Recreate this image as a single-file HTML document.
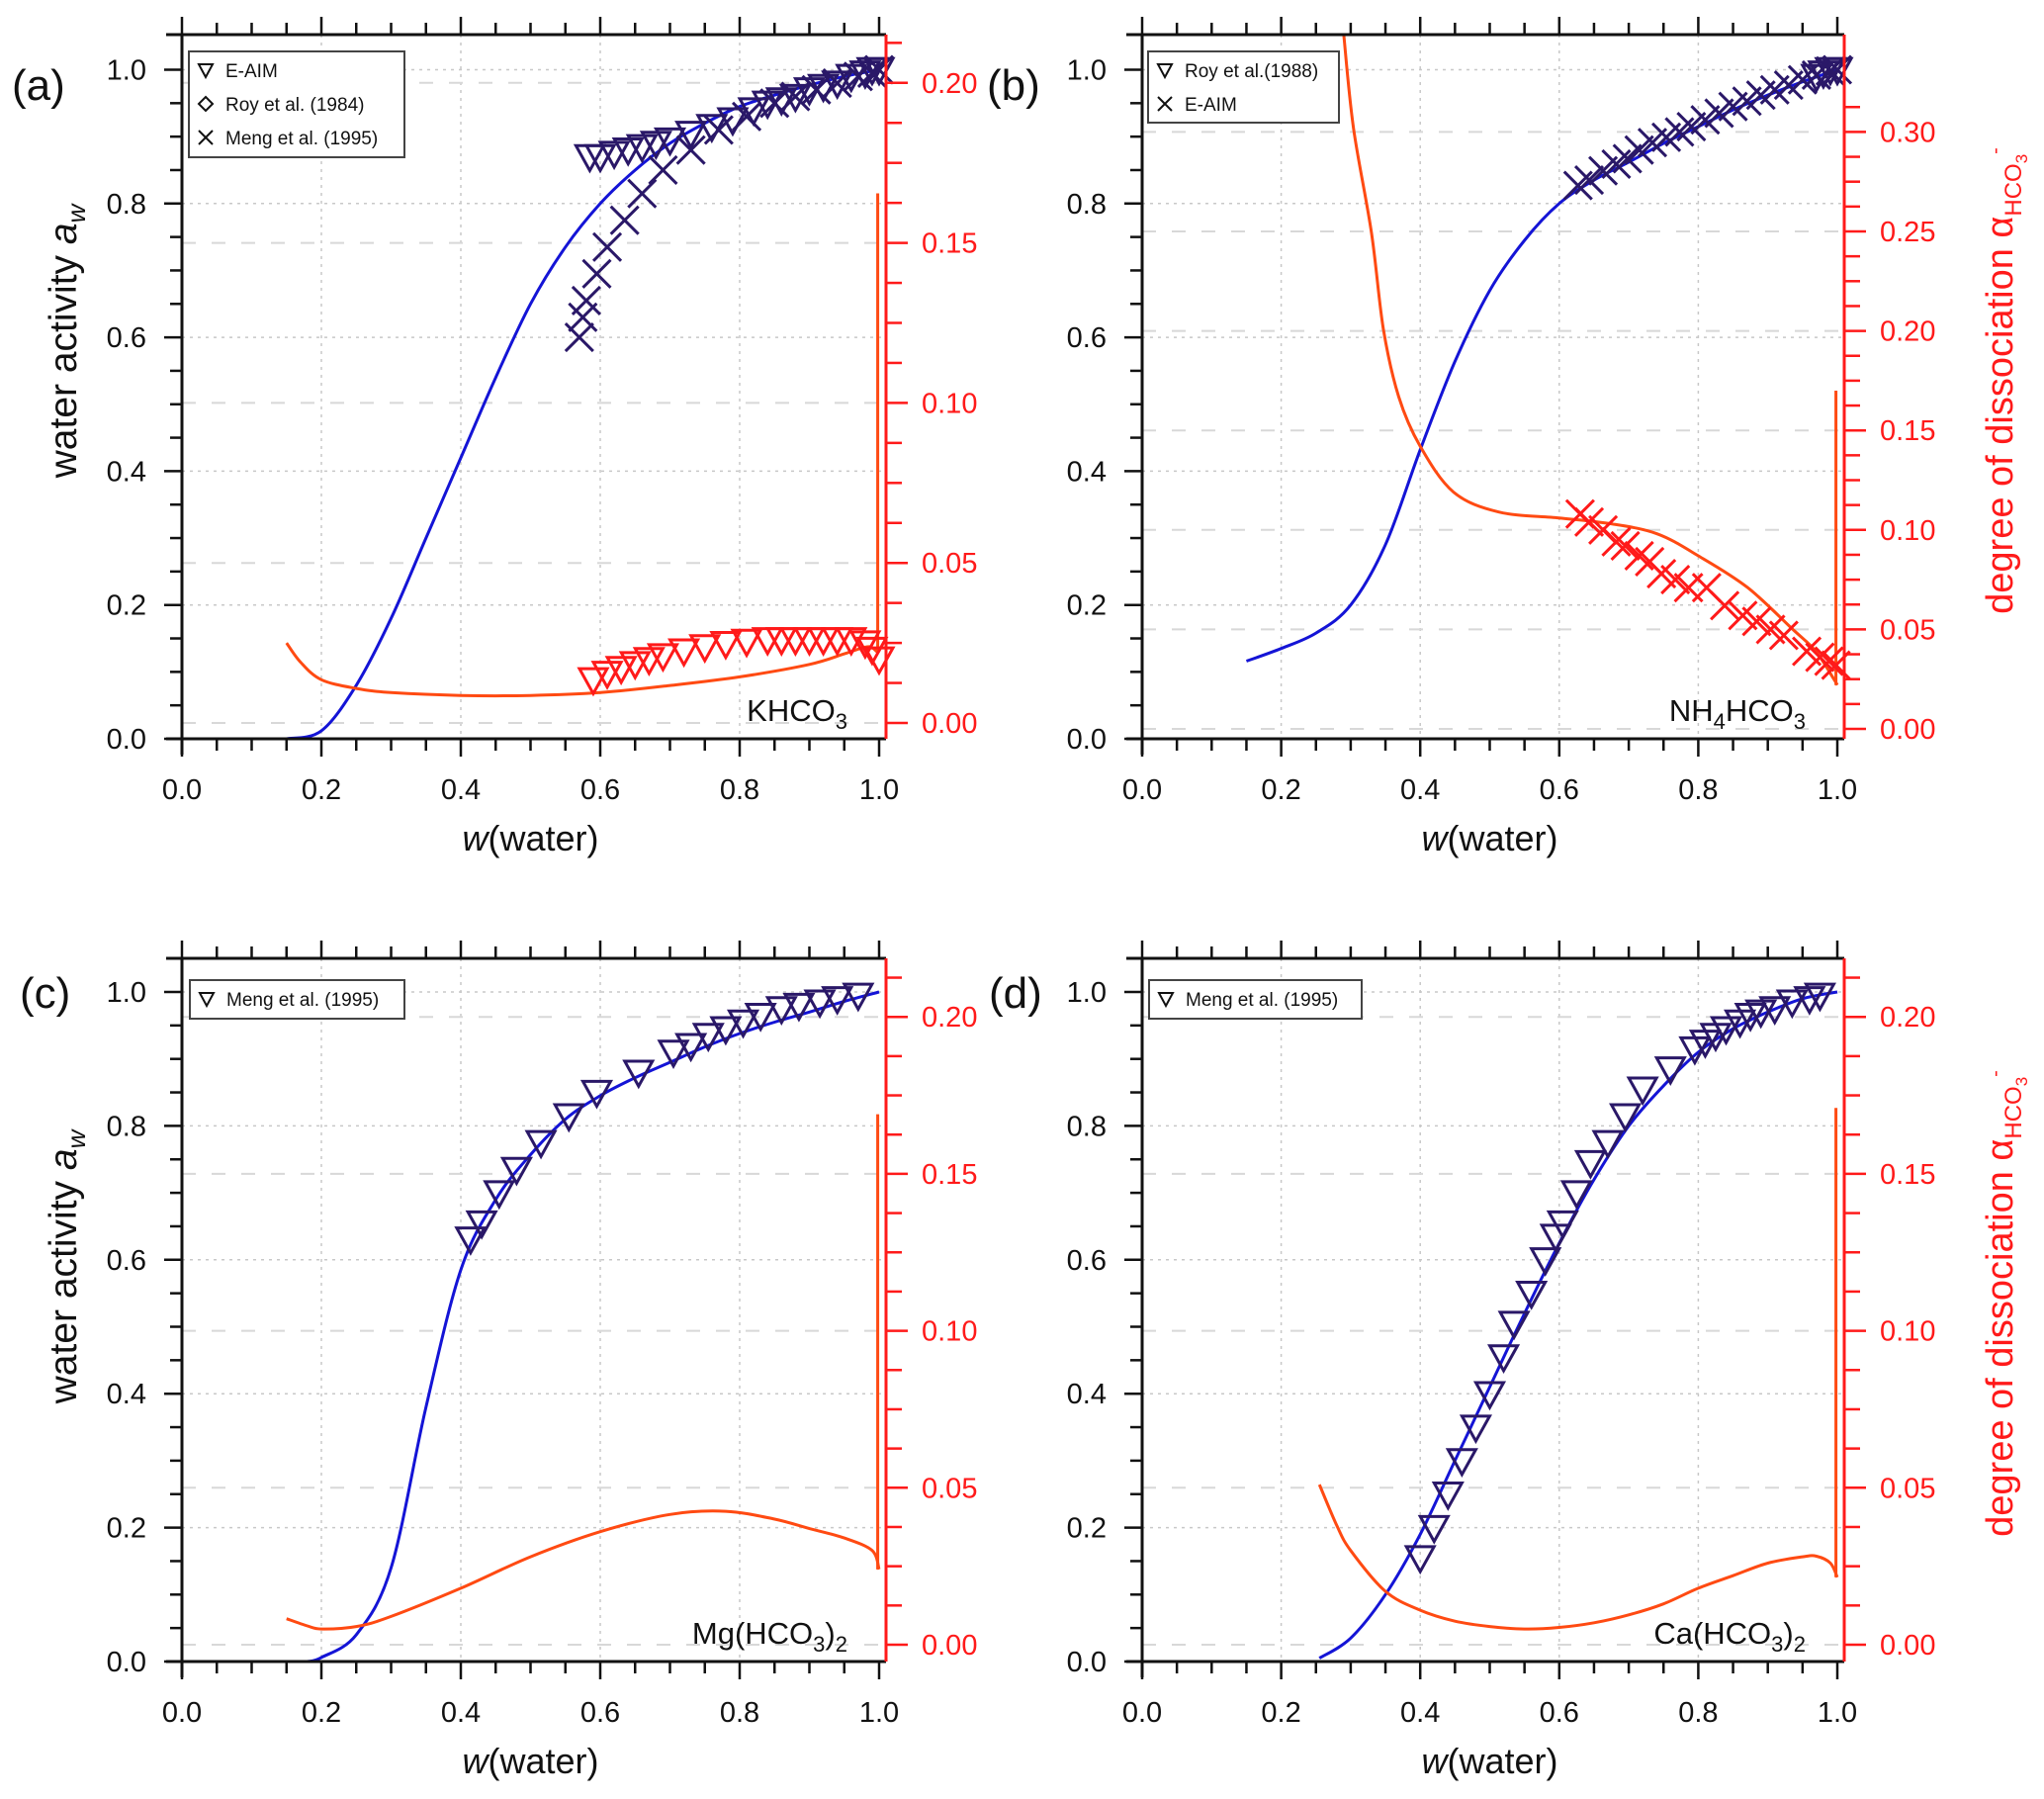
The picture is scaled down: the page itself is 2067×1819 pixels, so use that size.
<!DOCTYPE html>
<html><head><meta charset="utf-8"><style>
html,body{margin:0;padding:0;background:#fff}
svg{display:block}
text{font-family:"Liberation Sans",Arial,sans-serif}
</style></head><body>
<svg id="fig" width="2067" height="1819" viewBox="0 0 2067 1819" xmlns="http://www.w3.org/2000/svg"></svg>
<script>
// ---------- data ----------
const xTicks=[0,0.2,0.4,0.6,0.8,1.0];
const awTicks=[0,0.2,0.4,0.6,0.8,1.0];
const alphaTicksA=[0,0.05,0.10,0.15,0.20];
const alphaTicksB=[0,0.05,0.10,0.15,0.20,0.25,0.30];

// panel a KHCO3
const aBlueW=[0.15,0.2,0.25,0.3,0.35,0.4,0.45,0.5,0.55,0.6,0.65,0.7,0.75,0.8,0.85,0.9,0.95,1.0];
const aBlueAw=[0,0.012,0.08,0.18,0.30,0.42,0.54,0.65,0.735,0.80,0.85,0.89,0.92,0.945,0.962,0.977,0.99,1.0];
const aRedW=[0.15,0.17,0.2,0.25,0.3,0.4,0.5,0.6,0.7,0.8,0.9,0.95,0.98,0.99,0.998];
const aRedA=[0.025,0.019,0.0135,0.0108,0.0095,0.0086,0.0086,0.0095,0.0117,0.0144,0.0183,0.0216,0.0237,0.0235,0.022];
const aSpikeW=[0.998,0.998];const aSpikeA=[0.022,0.1655];
const aEaimW=[0.585,0.60,0.62,0.64,0.66,0.68,0.70,0.73,0.76,0.79,0.82,0.84,0.86,0.88,0.90,0.92,0.94,0.96,0.98,0.99,1.0];
const aEaimAw=[0.87,0.87,0.875,0.88,0.885,0.89,0.895,0.905,0.915,0.925,0.94,0.95,0.955,0.96,0.97,0.975,0.98,0.99,0.995,1.0,1.0];
const aMengW=[0.57,0.575,0.58,0.595,0.61,0.635,0.66,0.69,0.73,0.77,0.81,0.85,0.88,0.91,0.94,0.97,0.99,1.0];
const aMengAw=[0.6,0.63,0.655,0.695,0.735,0.775,0.815,0.85,0.88,0.91,0.93,0.95,0.96,0.97,0.98,0.99,0.995,1.0];
const aRedTriW=[0.59,0.61,0.63,0.65,0.67,0.69,0.72,0.75,0.78,0.81,0.84,0.86,0.88,0.90,0.92,0.94,0.96,0.98,0.99,1.0];
const aRedTriA=[0.0135,0.0155,0.017,0.0185,0.0198,0.021,0.0225,0.0238,0.0248,0.0255,0.026,0.026,0.026,0.026,0.026,0.026,0.026,0.025,0.023,0.02];

// panel b NH4HCO3
const bBlueW=[0.15,0.2,0.25,0.3,0.35,0.4,0.45,0.5,0.55,0.6,0.65,0.7,0.75,0.8,0.85,0.9,0.95,1.0];
const bBlueAw=[0.116,0.135,0.158,0.2,0.29,0.432,0.564,0.67,0.745,0.8,0.835,0.862,0.89,0.915,0.94,0.962,0.982,1.0];
const bRedW=[0.29,0.304,0.33,0.347,0.369,0.4,0.448,0.513,0.6,0.676,0.741,0.8,0.871,0.936,0.969,0.995,1.0];
const bRedA=[0.349,0.302,0.249,0.201,0.167,0.142,0.119,0.109,0.106,0.103,0.098,0.087,0.071,0.05,0.039,0.025,0.022];
const bSpikeW=[0.998,0.998];const bSpikeA=[0.022,0.17];
const bEaimW=[0.627,0.643,0.663,0.682,0.698,0.715,0.734,0.754,0.773,0.79,0.81,0.83,0.85,0.87,0.89,0.91,0.93,0.95,0.97,0.99,1.0];
const bEaimAw=[0.827,0.835,0.849,0.859,0.867,0.88,0.891,0.899,0.907,0.915,0.925,0.935,0.945,0.953,0.962,0.97,0.977,0.985,0.992,0.998,1.0];
const bRoyW=[0.97,0.98,0.99,1.0];
const bRoyAw=[0.99,0.995,1.0,1.0];
const bRedXW=[0.63,0.643,0.663,0.682,0.695,0.715,0.73,0.747,0.767,0.786,0.812,0.838,0.864,0.884,0.904,0.923,0.956,0.975,0.988,0.998];
const bRedXA=[0.108,0.104,0.1,0.094,0.092,0.087,0.084,0.078,0.075,0.071,0.071,0.062,0.057,0.054,0.05,0.047,0.039,0.036,0.034,0.032];

// panel c Mg(HCO3)2
const cBlueW=[0.18,0.2,0.25,0.3,0.35,0.4,0.45,0.5,0.55,0.6,0.65,0.7,0.75,0.8,0.85,0.9,0.95,1.0];
const cBlueAw=[0,0.006,0.04,0.14,0.38,0.585,0.69,0.757,0.81,0.845,0.872,0.895,0.918,0.938,0.955,0.97,0.986,1.0];
const cRedW=[0.15,0.18,0.2,0.25,0.3,0.4,0.5,0.6,0.7,0.78,0.85,0.9,0.95,0.99,1.0];
const cRedA=[0.0083,0.006,0.005,0.0058,0.009,0.018,0.028,0.036,0.0415,0.0425,0.040,0.037,0.034,0.03,0.024];
const cSpikeW=[0.998,0.998];const cSpikeA=[0.024,0.169];
const cMengW=[0.414,0.43,0.455,0.48,0.515,0.555,0.595,0.655,0.705,0.73,0.755,0.78,0.805,0.83,0.86,0.885,0.915,0.94,0.97];
const cMengAw=[0.631,0.655,0.70,0.735,0.775,0.815,0.85,0.88,0.91,0.92,0.935,0.945,0.955,0.965,0.975,0.98,0.985,0.99,0.995];

// panel d Ca(HCO3)2
const dBlueW=[0.255,0.3,0.35,0.4,0.45,0.5,0.55,0.6,0.65,0.7,0.75,0.8,0.85,0.9,0.95,1.0];
const dBlueAw=[0.005,0.035,0.1,0.19,0.3,0.41,0.52,0.625,0.72,0.8,0.86,0.91,0.945,0.97,0.99,1.0];
const dRedW=[0.255,0.28,0.3,0.35,0.4,0.45,0.5,0.55,0.6,0.65,0.7,0.75,0.8,0.85,0.9,0.95,0.97,0.99,1.0];
const dRedA=[0.051,0.038,0.03,0.017,0.011,0.0075,0.0058,0.005,0.0055,0.007,0.0095,0.013,0.018,0.022,0.026,0.028,0.0282,0.026,0.0215];
const dSpikeW=[0.998,0.998];const dSpikeA=[0.0215,0.171];
const dMengW=[0.40,0.42,0.44,0.46,0.48,0.50,0.52,0.535,0.56,0.58,0.595,0.605,0.625,0.645,0.67,0.695,0.72,0.76,0.795,0.81,0.825,0.84,0.86,0.875,0.89,0.91,0.935,0.96,0.975];
const dMengAw=[0.155,0.2,0.25,0.30,0.35,0.40,0.455,0.505,0.55,0.60,0.635,0.655,0.70,0.745,0.775,0.815,0.855,0.885,0.915,0.925,0.935,0.945,0.955,0.965,0.97,0.975,0.985,0.99,0.995];

// ---------- drawing ----------
const NS="http://www.w3.org/2000/svg";
const svg=document.getElementById('fig');
function mk(tag,attrs,parent){const e=document.createElementNS(NS,tag);for(const k in attrs)e.setAttribute(k,attrs[k]);(parent||svg).appendChild(e);return e;}
const BLUE="#1414d6",ORANGE="#ff4a12",RED="#ff1a1a",DARK="#2a1868",GRID="#c8c8c8";

function smoothPath(pts){
  if(pts.length<3)return 'M'+pts.map(p=>p[0]+','+p[1]).join('L');
  let d='M'+pts[0][0]+','+pts[0][1];
  for(let i=0;i<pts.length-1;i++){
    const p0=pts[Math.max(0,i-1)],p1=pts[i],p2=pts[i+1],p3=pts[Math.min(pts.length-1,i+2)];
    const c1=[p1[0]+(p2[0]-p0[0])/6,p1[1]+(p2[1]-p0[1])/6];
    const c2=[p2[0]-(p3[0]-p1[0])/6,p2[1]-(p3[1]-p1[1])/6];
    d+=`C${c1[0].toFixed(1)},${c1[1].toFixed(1)} ${c2[0].toFixed(1)},${c2[1].toFixed(1)} ${p2[0].toFixed(1)},${p2[1].toFixed(1)}`;
  }
  return d;
}

function panel(P){
  const g=mk('g',{});
  
  
  const X=w=>P.x0+(P.x1-P.x0)*w;
  const Y=a=>P.y0-(P.y0-P.y1)*a;
  const R=a=>P.r0-a/0.05*P.r05;
  for(const t of xTicks){if(t===0||t===1)continue;const l=mk('line',{x1:X(t),x2:X(t),y1:P.top,y2:P.y0,stroke:GRID,'stroke-width':1.5,'stroke-dasharray':'3,5'},g);
    }
  for(const t of awTicks){if(t===0)continue;const l=mk('line',{x1:P.x0,x2:P.rx,y1:Y(t),y2:Y(t),stroke:GRID,'stroke-width':1.5,'stroke-dasharray':'3,5'},g);
    }
  for(const t of P.rt){const l=mk('line',{x1:P.x0,x2:P.rx,y1:R(t),y2:R(t),stroke:'#d8d8d8','stroke-width':2,'stroke-dasharray':'14,16'},g);
    }
  const curve=(ws,vs,f,col,name)=>{const p=mk('path',{d:smoothPath(ws.map((w,i)=>[X(w),f(vs[i])])),fill:'none',stroke:col,'stroke-width':3,'stroke-linejoin':'round'},g);
    };
  curve(P.blueW,P.blueAw,Y,BLUE,'water-activity-curve');
  curve(P.redW,P.redA.map(a=>Math.min(a,(P.r0-P.top)/P.r05*0.05)),R,ORANGE,'dissociation-curve');
  curve(P.spikeW,P.spikeA,R,ORANGE,'dissociation-curve-end');
  const tri=(w,v,f,col,name)=>{const cx=X(w),cy=f(v),s=14;const p=mk('polygon',{points:(cx-s)+','+(cy-s*0.8)+' '+(cx+s)+','+(cy-s*0.8)+' '+cx+','+(cy+s*1.0),fill:'none',stroke:col,'stroke-width':3},g);
    };
  const crs=(w,v,f,col,name)=>{const cx=X(w),cy=f(v),s=14;const p=mk('path',{d:`M${cx-s},${cy-s}L${cx+s},${cy+s}M${cx-s},${cy+s}L${cx+s},${cy-s}`,fill:'none',stroke:col,'stroke-width':3},g);
    };
  (P.marks||[]).forEach(m=>{m.w.forEach((w,i)=>{(m.type==='tri'?tri:crs)(w,m.v[i],m.axis==='r'?R:Y,m.col,m.name);});});
  const ax=(x1,y1,x2,y2,col,name)=>{const l=mk('line',{x1,y1,x2,y2,stroke:col,'stroke-width':3},g);};
  ax(P.x0-16,P.top,P.rx,P.top,'#111','top-axis');
  ax(P.x0,P.top,P.x0,P.y0+16,'#111','y-axis');
  ax(P.x0-16,P.y0,P.rx,P.y0,'#111','x-axis');
  ax(P.rx,P.top,P.rx,P.y0,RED,'y2-axis');
  for(let i=0;i<=20;i++){const t=i*0.05;const maj=i%4===0;const x=X(t);
    mk('line',{x1:x,x2:x,y1:P.y0,y2:P.y0+(maj?18:12),stroke:'#111','stroke-width':2.5},g);
    mk('line',{x1:x,x2:x,y1:P.top,y2:P.top-(maj?18:12),stroke:'#111','stroke-width':2.5},g);}
  for(const t of xTicks){const tx=mk('text',{x:X(t),y:P.y0+61,'font-size':29,'text-anchor':'middle',fill:'#111'},g);tx.textContent=t.toFixed(1);
    }
  for(let i=0;i<=20;i++){const t=i*0.05;const maj=i%4===0;const y=Y(t);
    mk('line',{x1:P.x0,x2:P.x0-(maj?18:12),y1:y,y2:y,stroke:'#111','stroke-width':2.5},g);}
  for(const t of awTicks){const tx=mk('text',{x:P.x0-36,y:Y(t)+10,'font-size':29,'text-anchor':'end',fill:'#111'},g);tx.textContent=t.toFixed(1);
    }
  const rmax=P.rt[P.rt.length-1]+0.0125;
  for(let i=0;i*0.0125<=rmax+1e-9;i++){const t=i*0.0125;const y=R(t);if(y<P.top)break;const maj=i%4===0;
    mk('line',{x1:P.rx,x2:P.rx+(maj?22:16),y1:y,y2:y,stroke:RED,'stroke-width':2.5},g);}
  for(const t of P.rt){const tx=mk('text',{x:P.rx+36,y:R(t)+10,'font-size':29,fill:RED},g);tx.textContent=t.toFixed(2);
    }
  const xt=mk('text',{x:(P.x0+P.x1)/2,y:P.y0+113,'font-size':36,'text-anchor':'middle',fill:'#111'},g);
  xt.innerHTML='<tspan font-style="italic">w</tspan>(water)';
  
  const pl=mk('text',{x:P.lx,y:P.ly,'font-size':44,fill:'#111'},g);pl.textContent='('+P.id+')';
  
  const sl=mk('text',{x:P.x1-32,y:P.y0-18,'font-size':31,'text-anchor':'end',fill:'#111'},g);sl.innerHTML=P.salt;
  
  const L=P.legend;
  const lb=mk('rect',{x:L.x,y:L.y,width:L.w,height:L.h,fill:'#fff',stroke:'#444','stroke-width':2},g);
  
  L.items.forEach((it,i)=>{const cy=L.y+19+i*34;const cx=L.x+17;
    if(it.m==='tri')mk('polygon',{points:`${cx-7},${cy-6} ${cx+7},${cy-6} ${cx},${cy+7}`,fill:'none',stroke:'#111','stroke-width':2},g);
    else if(it.m==='dia')mk('polygon',{points:`${cx},${cy-7} ${cx+7},${cy} ${cx},${cy+7} ${cx-7},${cy}`,fill:'none',stroke:'#111','stroke-width':2},g);
    else mk('path',{d:`M${cx-7},${cy-7}L${cx+7},${cy+7}M${cx-7},${cy+7}L${cx+7},${cy-7}`,stroke:'#111','stroke-width':2},g);
    const t=mk('text',{x:L.x+37,y:cy+7,'font-size':19,fill:'#111'},g);t.textContent=it.t;
    });
}

panel({id:'a',x0:184,x1:889,y0:747,y1:70.5,top:35,rx:896,r0:731,r05:161.8,rt:alphaTicksA,lx:12,ly:101,
  salt:'KHCO<tspan font-size="22" dy="8">3</tspan>',
  blueW:aBlueW,blueAw:aBlueAw,redW:aRedW,redA:aRedA,spikeW:aSpikeW,spikeA:aSpikeA,
  marks:[{type:'tri',w:aEaimW,v:aEaimAw,axis:'l',col:DARK,name:'eaim-marker'},
         {type:'x',w:aMengW,v:aMengAw,axis:'l',col:DARK,name:'meng-marker'},
         {type:'tri',w:aRedTriW,v:aRedTriA,axis:'r',col:RED,name:'eaim-alpha-marker'}],
  legend:{x:191,y:52,w:218,h:107,items:[{m:'tri',t:'E-AIM'},{m:'dia',t:'Roy et al. (1984)'},{m:'x',t:'Meng et al. (1995)'}]}});
panel({id:'b',x0:1155,x1:1858,y0:747,y1:70.5,top:35,rx:1865,r0:737,r05:100.6,rt:alphaTicksB,lx:998,ly:101,
  salt:'NH<tspan font-size="22" dy="8">4</tspan><tspan dy="-8">HCO</tspan><tspan font-size="22" dy="8">3</tspan>',
  blueW:bBlueW,blueAw:bBlueAw,redW:bRedW,redA:bRedA,spikeW:bSpikeW,spikeA:bSpikeA,
  marks:[{type:'x',w:bEaimW,v:bEaimAw,axis:'l',col:DARK,name:'eaim-marker'},
         {type:'tri',w:bRoyW,v:bRoyAw,axis:'l',col:DARK,name:'roy-marker'},
         {type:'x',w:bRedXW,v:bRedXA,axis:'r',col:RED,name:'eaim-alpha-marker'}],
  legend:{x:1161,y:52,w:193,h:72,items:[{m:'tri',t:'Roy et al.(1988)'},{m:'x',t:'E-AIM'}]}});
panel({id:'c',x0:184,x1:889,y0:1680,y1:1003,top:969,rx:896,r0:1663,r05:158.7,rt:alphaTicksA,lx:20,ly:1019,
  salt:'Mg(HCO<tspan font-size="22" dy="8">3</tspan><tspan dy="-8">)</tspan><tspan font-size="22" dy="8">2</tspan>',
  blueW:cBlueW,blueAw:cBlueAw,redW:cRedW,redA:cRedA,spikeW:cSpikeW,spikeA:cSpikeA,
  marks:[{type:'tri',w:cMengW,v:cMengAw,axis:'l',col:DARK,name:'meng-marker'}],
  legend:{x:192,y:991,w:217,h:39,items:[{m:'tri',t:'Meng et al. (1995)'}]}});
panel({id:'d',x0:1155,x1:1858,y0:1680,y1:1003,top:969,rx:1865,r0:1663,r05:158.7,rt:alphaTicksA,lx:1000,ly:1019,
  salt:'Ca(HCO<tspan font-size="22" dy="8">3</tspan><tspan dy="-8">)</tspan><tspan font-size="22" dy="8">2</tspan>',
  blueW:dBlueW,blueAw:dBlueAw,redW:dRedW,redA:dRedA,spikeW:dSpikeW,spikeA:dSpikeA,
  marks:[{type:'tri',w:dMengW,v:dMengAw,axis:'l',col:DARK,name:'meng-marker'}],
  legend:{x:1162,y:991,w:215,h:39,items:[{m:'tri',t:'Meng et al. (1995)'}]}});

function ytitle(cx,cy,name){const t=mk('text',{x:0,y:0,'font-size':39,'text-anchor':'middle',fill:'#111',transform:`translate(${cx},${cy}) rotate(-90)`});
  t.innerHTML='water activity <tspan font-style="italic">a</tspan><tspan font-style="italic" font-size="26" dy="9">w</tspan>';
  }
ytitle(77,345,'y-axis-title-a');ytitle(77,1281,'y-axis-title-c');
function rtitle(cx,cy,name){const t=mk('text',{x:0,y:0,'font-size':38,'text-anchor':'middle',fill:RED,transform:`translate(${cx},${cy}) rotate(-90)`});
  t.innerHTML='degree of dissociation  α<tspan font-size="24" dy="9">HCO</tspan><tspan font-size="17" dy="6">3</tspan><tspan font-size="20" dy="-26">-</tspan>';
  }
rtitle(2035,385,'y2-axis-title-b');rtitle(2035,1318,'y2-axis-title-d');
</script>
</body></html>
